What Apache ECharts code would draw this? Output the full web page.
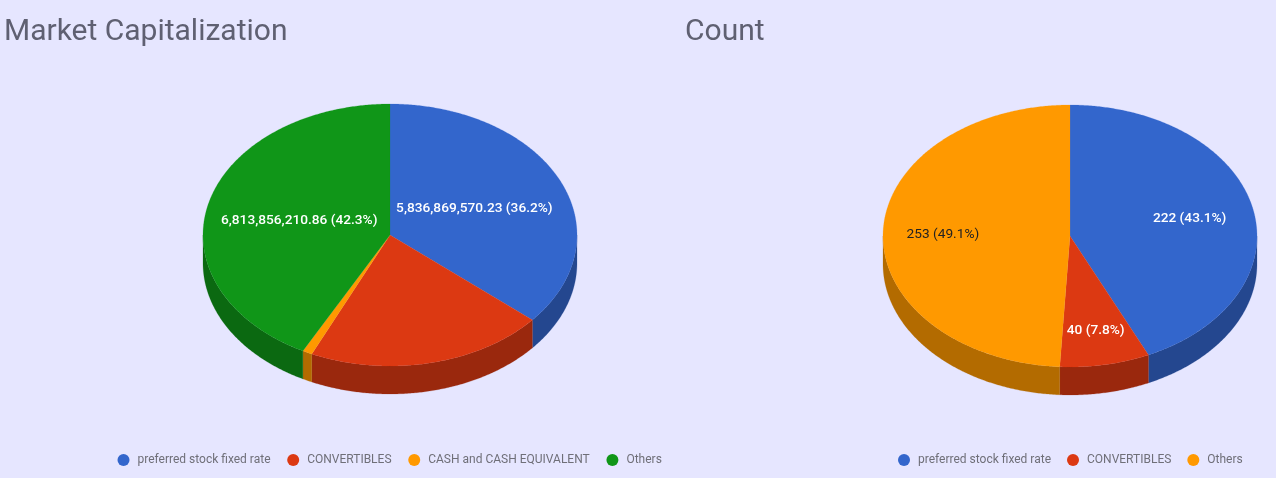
<!DOCTYPE html>
<html><head><meta charset="utf-8">
<style>html,body{margin:0;padding:0;background:#e6e6ff}#c{width:1276px;height:478px}</style>
<script src="https://cdn.jsdelivr.net/npm/echarts@6/dist/echarts.min.js"></script>
</head><body><div id="c"></div>
<script>
const mcapCategories = ['preferred stock fixed rate','CONVERTIBLES','CASH and CASH EQUIVALENT','Others'];
const mcapValues = [5836869570.23, 3327000000, 137000000, 6813856210.86];
const mcapLabels = ['5,836,869,570.23 (36.2%)','','','6,813,856,210.86 (42.3%)'];
const countCategories = ['preferred stock fixed rate','CONVERTIBLES','Others'];
const countValues = [222, 40, 253];
const countLabels = ['222 (43.1%)','40 (7.8%)','253 (49.1%)'];

const BLUE='#3366cc',RED='#dc3912',ORANGE='#ff9900',GREEN='#109618';
const pies=[
 {title:'Market Capitalization',cats:mcapCategories,vals:mcapValues,labels:mcapLabels,
  colors:[BLUE,RED,ORANGE,GREEN],sides:['#24478f','#9a280d','#b36b00','#0b6911'],
  labelK:[.497,0,0,.5],labelCol:['#fff','#fff','#fff','#fff'],labelWeight:[500,500,500,500],cx:390,cy:235},
 {title:'Count',cats:countCategories,vals:countValues,labels:countLabels,
  colors:[BLUE,RED,ORANGE],sides:['#24478f','#9a280d','#b36b00'],
  labelK:[.655,.73,.68],labelCol:['#fff','#fff','#222'],labelWeight:[500,500,400],cx:1070,cy:236}
];
const RX=187,RY=131,DEPTH=28,FONT='Roboto, sans-serif';

function pt(p,deg,dy){const t=deg*Math.PI/180;return [p.cx+RX*Math.sin(t),p.cy-RY*Math.cos(t)+(dy||0)];}
function arc(p,a0,a1,dy){const n=Math.max(2,Math.ceil((a1-a0)*2)),r=[];for(let i=0;i<=n;i++)r.push(pt(p,a0+(a1-a0)*i/n,dy));return r;}

function sliceSeries(p,i){
 const total=p.vals.reduce((a,b)=>a+b,0);
 const start=p.vals.slice(0,i).reduce((a,b)=>a+b,0);
 return {
  type:'custom',name:p.cats[i],coordinateSystem:'none',silent:true,
  itemStyle:{color:p.colors[i]},
  data:[[p.vals[i]]],
  renderItem(params,api){
   const a0=start/total*360,a1=a0+api.value(0)/total*360,children=[];
   const s0=Math.max(a0,90),s1=Math.min(a1,270);
   if(s1>s0){
    children.push({type:'polygon',shape:{points:arc(p,s0,s1,0).concat(arc(p,s0,s1,DEPTH).reverse())},
      style:{fill:p.sides[i],stroke:p.sides[i],lineWidth:.2}});
   }
   children.push({type:'polygon',shape:{points:[[p.cx,p.cy]].concat(arc(p,a0,a1,0))},
      style:{fill:p.colors[i],stroke:p.colors[i],lineWidth:.2}});
   if(p.labels[i]){
    const m=(a0+a1)/2*Math.PI/180,k=p.labelK[i];
    children.push({type:'text',z2:10,style:{x:p.cx+RX*k*Math.sin(m),y:p.cy-RY*k*Math.cos(m)+1,
      text:p.labels[i],fill:p.labelCol[i],font:p.labelWeight[i]+' 13.7px '+FONT,align:'center',verticalAlign:'middle'}});
   }
   return {type:'group',children};
  }
 };
}
function legendOf(p,left,gap){
 return {left,top:449,icon:'circle',itemWidth:12,itemHeight:12,itemGap:gap,selectedMode:false,
  textStyle:{color:'#6f6f78',fontSize:12,fontFamily:FONT,padding:[0,0,0,3]},
  data:p.cats.map((n,i)=>({name:n,itemStyle:{color:p.colors[i]}}))};
}
const chart=echarts.init(document.getElementById('c'),null,{renderer:'canvas'});
chart.setOption({
 animation:false,backgroundColor:'#e6e6ff',
 title:[
  {text:pies[0].title,left:-1,top:12,textStyle:{color:'#5f6072',fontSize:30,fontWeight:400,fontFamily:FONT}},
  {text:pies[1].title,left:680,top:12,textStyle:{color:'#5f6072',fontSize:30,fontWeight:400,fontFamily:FONT}}
 ],
 legend:[legendOf(pies[0],112.5,16.7),legendOf(pies[1],893,16)],
 series:pies.flatMap(p=>p.vals.map((_,i)=>sliceSeries(p,i)))
});
</script></body></html>
